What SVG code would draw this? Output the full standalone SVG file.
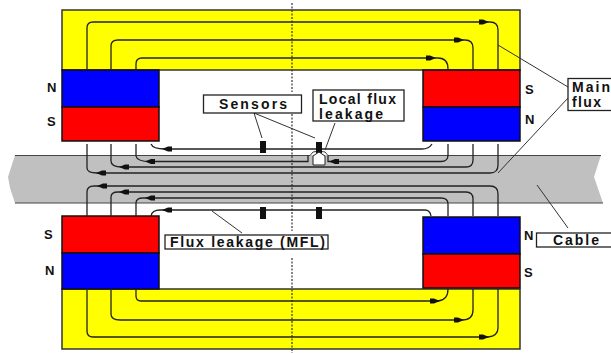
<svg xmlns="http://www.w3.org/2000/svg" width="611" height="353" viewBox="0 0 611 353">
<style>
.box{fill:#fff;stroke:#222;stroke-width:1.3}
.mag{stroke:#111;stroke-width:1.5}
.yoke{fill:#ff0;stroke:#333;stroke-width:1.5}
.flux{fill:none;stroke:#222;stroke-width:1.3}
.lead{fill:none;stroke:#333;stroke-width:1}
.sensor{fill:#111}
text{font-family:"Liberation Sans",Arial,sans-serif;font-weight:bold;font-size:14px;fill:#111}
.pole{font-size:13px}
</style>
<defs>
<path id="ar" d="M6,0 L0,-2.600 L-4,-2.600 V2.600 L0,2.600Z" fill="#111"/>
<path id="al" d="M-6,0 L0,-2.600 L4,-2.600 V2.600 L0,2.600Z" fill="#111"/>
</defs>
<rect width="611" height="353" fill="#fff"/>
<g id="cable"><path d="M15,155 H601 L594,177 L603,203 H15 L10,188 L8,177 Z" fill="#c0c0c0"/><path d="M15,155.500 H310 L313,152 L319,151 L325,152 L328,155.500 H601 M15,203 H603" fill="none" stroke="#444" stroke-width="1"/></g>
<g id="yoke-top"><rect class="yoke" x="62" y="10" width="458" height="60"/></g>
<g id="yoke-bottom"><rect class="yoke" x="62" y="289" width="458" height="60"/></g>
<g id="axis"><path d="M292,3 V92 M292,114 V231 M292,258 V353" fill="none" stroke="#333" stroke-width="1.200" stroke-dasharray="2 1.500"/></g>
<g id="magnet-top-left"><rect class="mag" x="62" y="70" width="97" height="37" fill="#00f"/><rect class="mag" x="62" y="107" width="97" height="34" fill="#f00"/><text class="pole" x="47" y="92">N</text><text class="pole" x="47" y="126">S</text></g>
<g id="magnet-top-right"><rect class="mag" x="423" y="70" width="97" height="37" fill="#f00"/><rect class="mag" x="423" y="107" width="97" height="34" fill="#00f"/><text class="pole" x="525" y="94">S</text><text class="pole" x="525" y="124">N</text></g>
<g id="magnet-bottom-left"><rect class="mag" x="62" y="216" width="97" height="37" fill="#f00"/><rect class="mag" x="62" y="253" width="97" height="36" fill="#00f"/><text class="pole" x="44" y="239">S</text><text class="pole" x="45" y="275">N</text></g>
<g id="magnet-bottom-right"><rect class="mag" x="423" y="217" width="97" height="37" fill="#00f"/><rect class="mag" x="423" y="254" width="97" height="34" fill="#f00"/><text class="pole" x="524" y="240">N</text><text class="pole" x="524" y="277">S</text></g>
<g id="connectors">
<path class="flux" d="M87,70 V28 Q87,22 93,22 H490 Q498,22 498,30 V70"/>
<path class="flux" d="M111,70 V46 Q111,40 118,40 H465 Q473,40 473,48 V70"/>
<path class="flux" d="M136,70 V64 Q136,58 142,58 H438 Q448,58 448,69"/>
<path class="flux" d="M87,144 V168 Q87,173 97,173 H490 Q498,173 498,165 V144"/>
<path class="flux" d="M111,144 V161 Q111,167 122,167 H466 Q473,167 473,160 V144"/>
<path class="flux" d="M136,144 V156 Q137,161.500 150,161.500 H308 V155.500 M328,155.500 V161.500 H441 Q448,161.500 448,155 V144"/>
<path class="flux" d="M151,144 Q153,149 165,149 H422 Q429,149 432,144"/>
<path class="flux" d="M87,216 V192 Q87,186 94,186 H490 Q498,186 498,194 V216"/>
<path class="flux" d="M111,216 V197 Q111,192 118,192 H466 Q473,192 473,199 V216"/>
<path class="flux" d="M136,216 V203 Q136,198 143,198 H441 Q448,198 448,204 V216"/>
<path class="flux" d="M151,216 Q152,210 160,210 H425 Q430,210 431,216"/>
<path class="flux" d="M136,289 V296 Q136,301 141,301 H438 Q448,300 448,289"/>
<path class="flux" d="M111,289 V314 Q111,320 120,320 H462 Q473,320 473,310 V289"/>
<path class="flux" d="M87,289 V331 Q87,337 93,337 H488 Q498,336 498,328 V289"/>
<use href="#ar" x="483" y="22"/><use href="#ar" x="458" y="40"/><use href="#ar" x="430" y="58"/>
<use href="#al" x="168" y="149"/><use href="#al" x="151" y="161.500"/><use href="#al" x="125" y="167"/><use href="#al" x="102" y="173"/><use href="#al" x="335" y="161.500"/>
<use href="#al" x="103" y="186"/><use href="#al" x="125" y="192"/><use href="#al" x="151" y="198"/><use href="#al" x="168" y="210"/>
<use href="#ar" x="434" y="301"/><use href="#ar" x="458" y="320"/><use href="#ar" x="483" y="337"/>
<path class="lead" d="M254,113 L262,138 M254,113 L315,138 M335,123 L325,150 M498,45 L568,87 M568,98 L498,173 M537,185 L568,228 M212,211 L242,233"/>
</g>
<g id="sensor-top-1"><rect class="sensor" x="260" y="141" width="6" height="12"/></g>
<g id="sensor-top-2"><rect class="sensor" x="316" y="142" width="6" height="11"/></g>
<g id="sensor-bottom-1"><rect class="sensor" x="260" y="207" width="6" height="12"/></g>
<g id="sensor-bottom-2"><rect class="sensor" x="316" y="207" width="6" height="12"/></g>
<g id="defect"><path d="M313,165 V156 L319,152 L325,156 V165 Z" fill="#fff" stroke="#222" stroke-width="1"/></g>
<g id="label-sensors"><rect class="box" x="203.500" y="95" width="98" height="18"/><text x="219" y="108.500" textLength="68" lengthAdjust="spacing">Sensors</text></g>
<g id="label-local"><rect class="box" x="313" y="90" width="91" height="31"/><text x="319" y="104" textLength="77" lengthAdjust="spacing">Local flux</text><text x="319" y="119" textLength="64" lengthAdjust="spacing">leakage</text></g>
<g id="label-main"><rect class="box" x="568" y="78.500" width="44" height="32"/><text x="572" y="92" textLength="38" lengthAdjust="spacing">Main</text><text x="572" y="107" textLength="29" lengthAdjust="spacing">flux</text></g>
<g id="label-cable"><rect class="box" x="536.500" y="233" width="76" height="14"/><text x="553" y="244.500" textLength="46" lengthAdjust="spacing">Cable</text></g>
<g id="label-mfl"><rect class="box" x="165" y="235" width="163" height="14"/><text x="170" y="246.500" textLength="155" lengthAdjust="spacing">Flux leakage (MFL)</text></g>
</svg>
